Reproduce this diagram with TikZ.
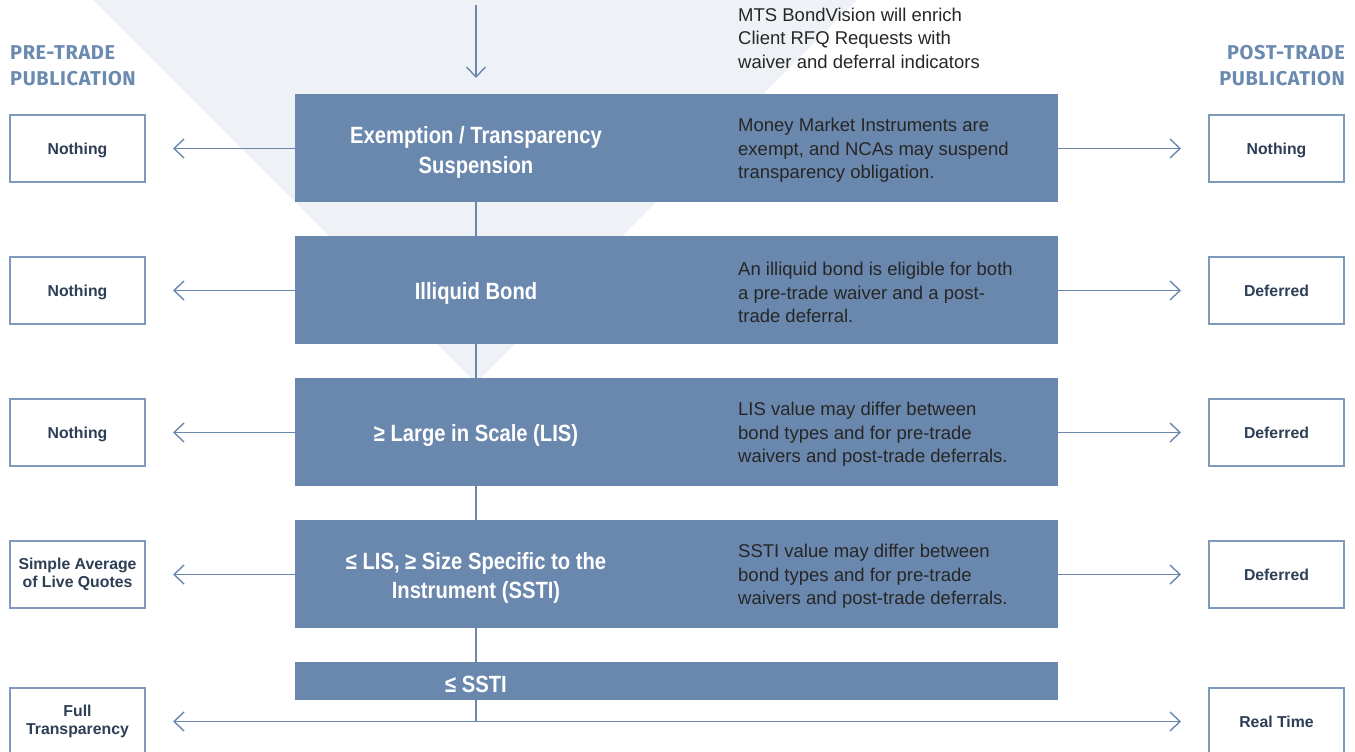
\documentclass[tikz,border=0pt]{standalone}
\usepackage{fontspec}
\setmainfont{Liberation Sans}
\newfontfamily\titlefont[FakeStretch=0.86]{Liberation Sans}
\newfontfamily\headfont[LetterSpace=3]{Fira Sans}
\usetikzlibrary{arrows.meta}
\definecolor{boxblue}{HTML}{6A88AD}
\definecolor{boxline}{HTML}{7D99BB}
\definecolor{bggray}{HTML}{EEF2F6}
\definecolor{navytext}{HTML}{2D3E55}
\definecolor{desctext}{HTML}{262626}
\definecolor{headblue}{HTML}{6B8AB0}
\tikzset{
  x=1pt, y=-1pt,
  mainbox/.style={fill=boxblue, draw=none, minimum width=763pt, inner sep=0pt, outer sep=0pt},
  titletext/.style={text=white, align=center, font=\titlefont\bfseries\fontsize{23.5}{29.5}\selectfont, inner sep=0pt},
  desc/.style={text=desctext, align=left, anchor=west, font=\fontsize{18.5}{23.5}\selectfont, inner sep=0pt},
  pubbox/.style={draw=boxline, line width=1.2pt, fill=white, minimum width=135pt, minimum height=67pt, inner sep=0pt, align=center, text=navytext, font=\bfseries\fontsize{15.8}{18.5}\selectfont, outer sep=0pt},
  oneline/.style={text height=11.3pt, text depth=0pt},
  conn/.style={draw=boxblue, line width=1.4pt},
  arr/.style={conn, -{Straight Barb[length=10pt,width=19pt,line width=1.4pt]}},
  darr/.style={conn, {Straight Barb[length=10pt,width=19pt,line width=1.4pt]}-{Straight Barb[length=10pt,width=19pt,line width=1.4pt]}},
  head/.style={text=headblue, font=\headfont\bfseries\fontsize{20}{26}\selectfont, inner sep=0pt}
}
\begin{document}
\begin{tikzpicture}
\useasboundingbox (0,0) rectangle (1355,752);
% background triangle
\fill[bggray] (93,0) -- (857,0) -- (476,383) -- cycle;

% headings
\node[head, anchor=north west, align=left] (prehead) at (10,45) {PRE-TRADE\\PUBLICATION};
\node[head, anchor=north east, align=right] (posthead) at (1345,45) {POST-TRADE\\PUBLICATION};

% top arrow and note
\coordinate (top) at (476,5);
\coordinate (topend) at (476,78);
\draw[arr] (top) -- (topend);
\node[desc] (note) at (738,38) {MTS BondVision will enrich\\Client RFQ Requests with\\waiver and deferral indicators};

% main boxes
\node[mainbox, minimum height=108pt] (b1) at (676.5,148) {};
\node[mainbox, minimum height=108pt] (b2) at (676.5,290) {};
\node[mainbox, minimum height=108pt] (b3) at (676.5,432) {};
\node[mainbox, minimum height=108pt] (b4) at (676.5,574) {};
\node[mainbox, minimum height=38pt] (b5) at (676.5,681) {};

% titles
\node[titletext] (t1) at (476,152.5) {Exemption / Transparency\\Suspension};
\node[titletext] (t2) at (476,293) {Illiquid Bond};
\node[titletext] (t3) at (476,435) {≥ Large in Scale (LIS)};
\node[titletext] (t4) at (476,578) {≤ LIS, ≥ Size Specific to the\\Instrument (SSTI)};
\node[titletext] (t5) at (476,684) {≤ SSTI};

% descriptions
\node[desc] (d1) at (738,150.5) {Money Market Instruments are\\exempt, and NCAs may suspend\\transparency obligation.};
\node[desc] (d2) at (738,292.5) {An illiquid bond is eligible for both\\a pre-trade waiver and a post-\\trade deferral.};
\node[desc] (d3) at (738,434.5) {LIS value may differ between\\bond types and for pre-trade\\waivers and post-trade deferrals.};
\node[desc] (d4) at (738,576.5) {SSTI value may differ between\\bond types and for pre-trade\\waivers and post-trade deferrals.};

% publication boxes
\node[pubbox, oneline] (p1) at (77.5,148.5) {Nothing};
\node[pubbox, oneline] (p2) at (77.5,290.5) {Nothing};
\node[pubbox, oneline] (p3) at (77.5,432.5) {Nothing};
\node[pubbox] (p4) at (77.5,574.5) {Simple Average\\of Live Quotes};
\node[pubbox] (p5) at (77.5,721.5) {Full\\Transparency};
\node[pubbox, oneline] (q1) at (1276.5,148.5) {Nothing};
\node[pubbox, oneline] (q2) at (1276.5,290.5) {Deferred};
\node[pubbox, oneline] (q3) at (1276.5,432.5) {Deferred};
\node[pubbox, oneline] (q4) at (1276.5,574.5) {Deferred};
\node[pubbox, oneline] (q5) at (1276.5,721.5) {Real Time};

% vertical connectors
\draw[conn] (b1.south -| top) -- (b2.north -| top);
\draw[conn] (b2.south -| top) -- (b3.north -| top);
\draw[conn] (b3.south -| top) -- (b4.north -| top);
\draw[conn] (b4.south -| top) -- (b5.north -| top);
\draw[conn] (b5.south -| top) -- (p5.east -| top);

% side arrows
\foreach \i in {1,2,3,4}{
  \draw[arr, shorten >=28pt] (b\i.west |- p\i.east) -- (p\i.east);
  \draw[arr, shorten >=28pt] (b\i.east |- q\i.west) -- (q\i.west);
}
\draw[darr, shorten >=28pt, shorten <=28pt] (p5.east) -- (q5.west);
\end{tikzpicture}
\end{document}
